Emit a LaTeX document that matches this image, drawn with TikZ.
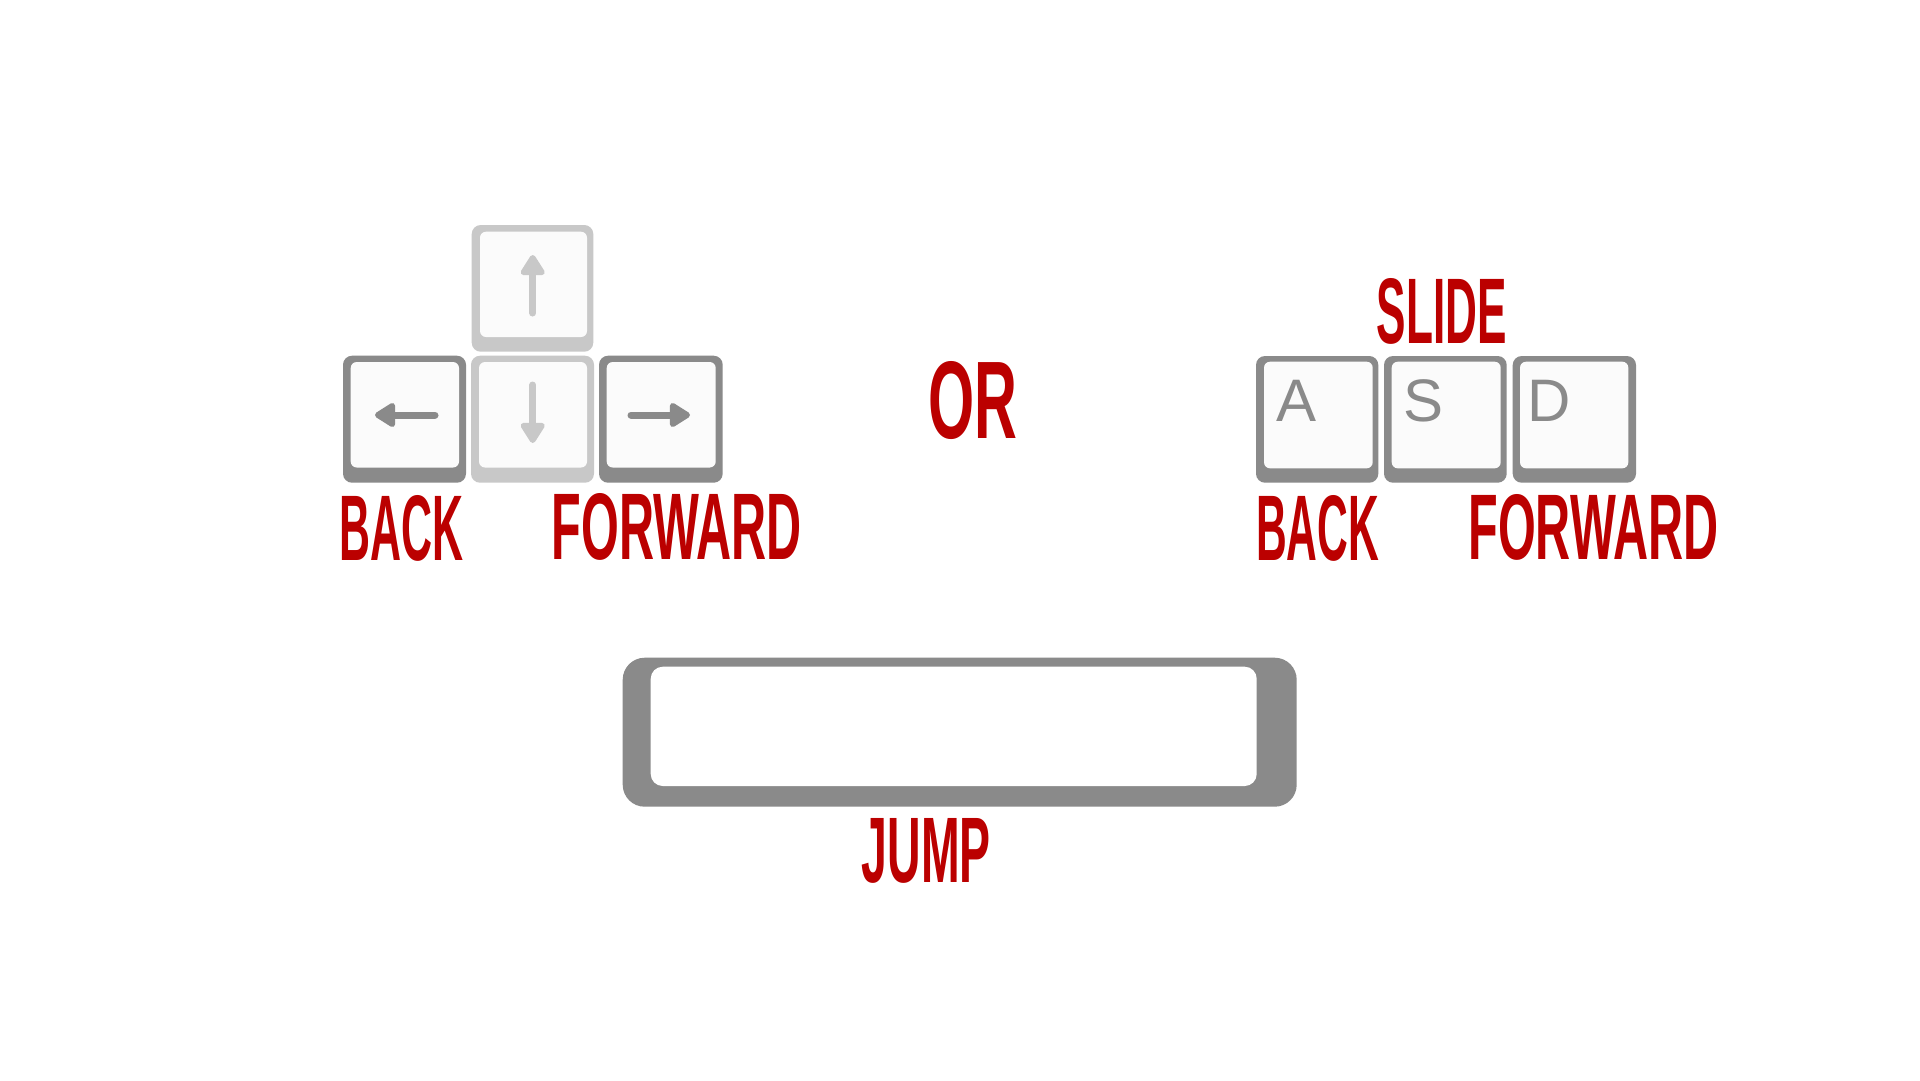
\documentclass[tikz,border=0pt]{standalone}
\usepackage{fontspec}
\setmainfont{Liberation Sans}
\usetikzlibrary{arrows.meta}
\definecolor{kred}{RGB}{187,0,0}
\definecolor{kdark}{RGB}{138,138,138}
\definecolor{klight}{RGB}{200,200,200}
\definecolor{kface}{RGB}{251,251,251}
\begin{document}
\begin{tikzpicture}[x=1pt,y=-1pt,
 keydark/.style={fill=kdark, rounded corners=9pt},
 keylight/.style={fill=klight, rounded corners=9pt},
 keyface/.style={fill=kface, rounded corners=6pt},
 keyarrow/.style={line width=7pt, line cap=round, -{Triangle[length=23pt,width=27pt,round]}},
 redword/.style={text=kred, inner sep=0pt, anchor=north west},
 keyletter/.style={text=kdark, inner sep=0pt, anchor=base west, font=\fontsize{60}{60}\selectfont}]
\useasboundingbox (0,0) rectangle (1920,1080);
\fill[white] (0,0) rectangle (1920,1080);

% ---- arrow keys ----
% up
\fill[keylight] (471.7,225) rectangle (593.3,351.7);
\fill[keyface] (480,231.7) rectangle (587,337);
% left
\fill[keydark] (343,355.7) rectangle (466,482.7);
\fill[keyface] (350.7,362) rectangle (459,467.5);
% down
\fill[keylight] (471,355.7) rectangle (594,482.7);
\fill[keyface] (479,362) rectangle (587,467.5);
% right
\fill[keydark] (599,355.7) rectangle (722.7,482.7);
\fill[keyface] (606.7,362) rectangle (715.7,467.5);

\coordinate (upT) at (532.7,313);
\coordinate (upH) at (532.7,255);
\coordinate (dnT) at (532.7,385);
\coordinate (dnH) at (532.7,443);
\coordinate (lfT) at (435,415);
\coordinate (lfH) at (375,415);
\coordinate (rtT) at (631,415);
\coordinate (rtH) at (690,415);
\draw[keyarrow, draw=klight, fill=klight] (upT) -- (upH);
\draw[keyarrow, draw=klight, fill=klight] (dnT) -- (dnH);
\draw[keyarrow, draw=kdark, fill=kdark] (lfT) -- (lfH);
\draw[keyarrow, draw=kdark, fill=kdark] (rtT) -- (rtH);

% ---- ASD keys ----
\fill[keydark] (1256,356) rectangle (1378.3,482.7);
\fill[keyface] (1264,361.7) rectangle (1372.7,468.3);
\fill[keydark] (1384,356) rectangle (1506.7,482.7);
\fill[keyface] (1391.7,361.7) rectangle (1500.7,468.3);
\fill[keydark] (1512.7,356) rectangle (1636,482.7);
\fill[keyface] (1520,361.7) rectangle (1628.3,468.3);
\node[keyletter] (kA) at (1276.5,421.7) {A};
\node[keyletter] (kS) at (1403.5,421.7) {S};
\node[keyletter] (kD) at (1527,421.7) {D};

% ---- space bar ----
\fill[fill=kdark, rounded corners=22pt] (622.7,657.7) rectangle (1296.7,806.7);
\fill[fill=white, rounded corners=12pt] (650.7,666.7) rectangle (1256.7,786);

% ---- red labels ----
\node[redword] (backL) at (339,495) {\resizebox{124pt}{65pt}{\textbf{BACK}}};
\node[redword] (fwdL) at (551.7,493) {\resizebox{250pt}{66pt}{\textbf{FORWARD}}};
\node[redword] (orW) at (928,361.7) {\resizebox{89pt}{77pt}{\textbf{OR}}};
\node[redword] (slide) at (1376.7,278.3) {\resizebox{130pt}{65pt}{\textbf{SLIDE}}};
\node[redword] (backR) at (1256,495) {\resizebox{123pt}{65pt}{\textbf{BACK}}};
\node[redword] (fwdR) at (1468.3,494) {\resizebox{250pt}{65pt}{\textbf{FORWARD}}};
\node[redword] (jump) at (861.7,818.3) {\resizebox{129pt}{64pt}{\textbf{JUMP}}};
\end{tikzpicture}
\end{document}
